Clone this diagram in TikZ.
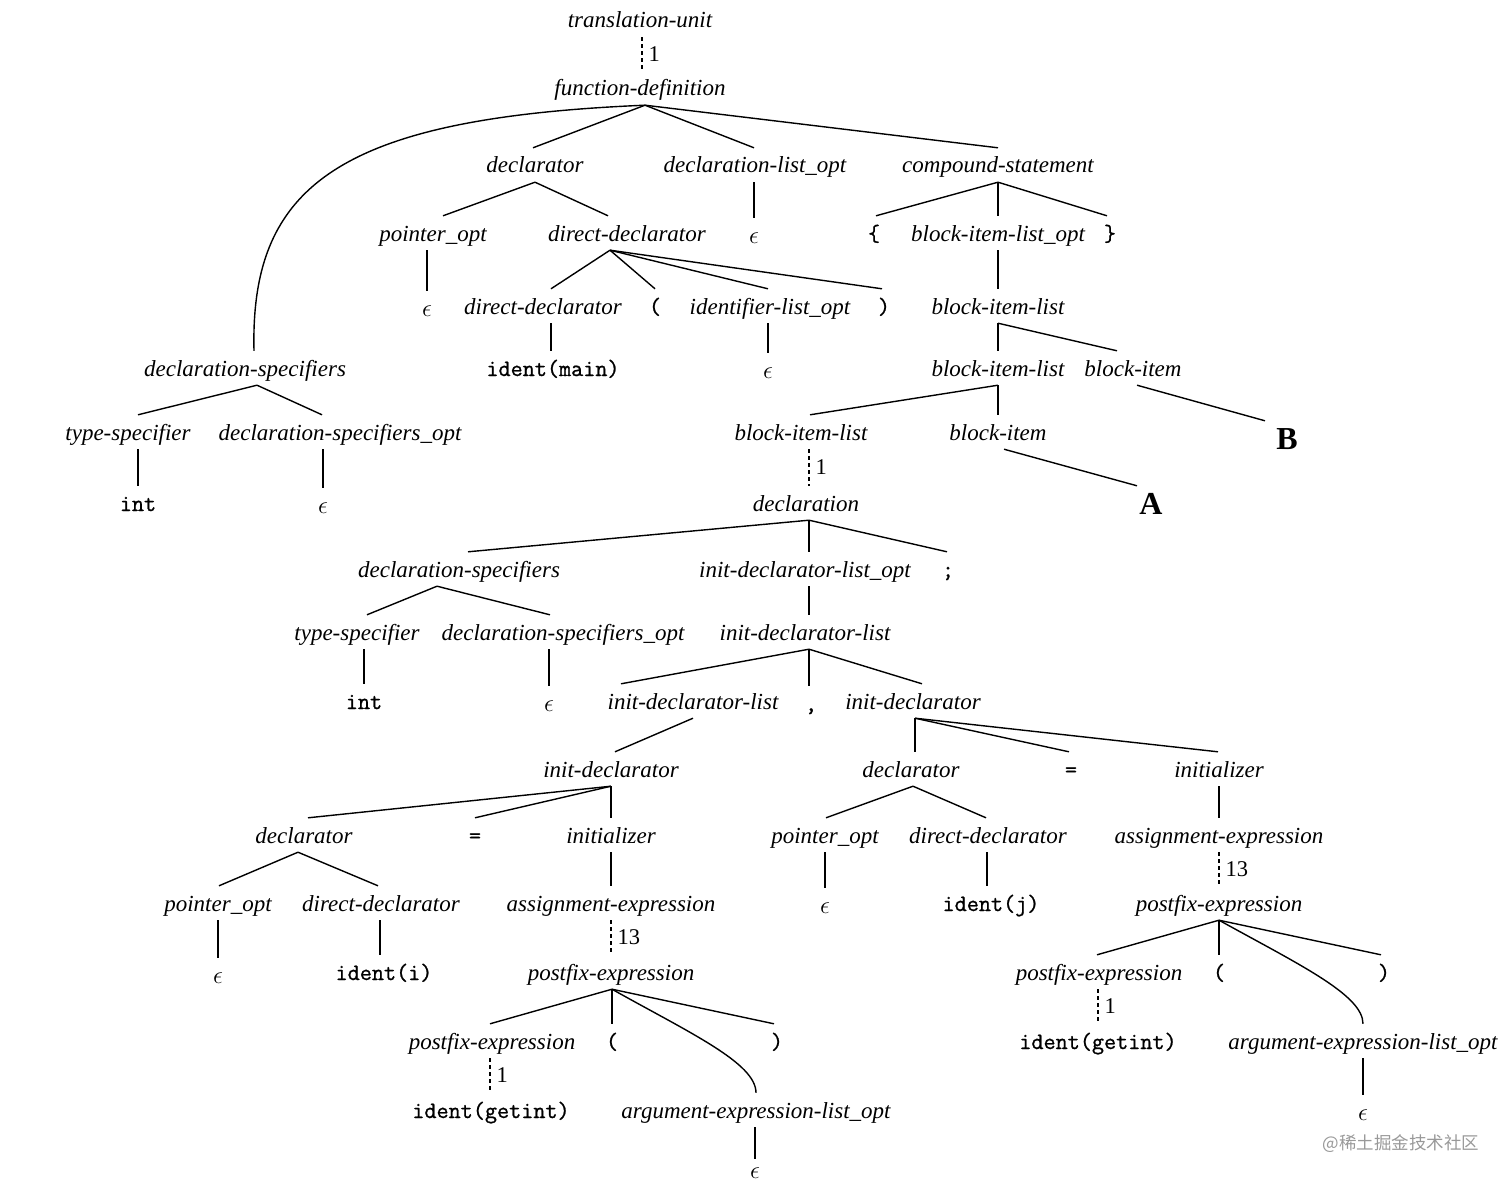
\documentclass[tikz,border=0pt]{standalone}
\usepackage{fontspec}
\setmainfont{Liberation Serif}
\newfontfamily\cjkfont{Noto Sans CJK SC}
\newfontfamily\mytt{Latin Modern Mono}[FakeBold=1.0]
\tikzset{
  lbl/.style={inner sep=0pt, text height=18pt, text depth=2pt, minimum height=34pt,
              font=\fontsize{23}{27}\selectfont\itshape},
  tt/.style={lbl, font=\fontsize{23.5}{27}\selectfont\mytt},
  bigl/.style={inner sep=0pt, text height=22pt, text depth=0pt, minimum height=34pt,
              font=\fontsize{32}{36}\selectfont\bfseries},
  lowlbl/.style={lbl, minimum height=22pt},
  edge/.style={line width=1.4pt},
  dashlink/.style={line width=1.2pt, dash pattern=on 4pt off 3pt},
  num/.style={right, inner sep=6pt, font=\fontsize{22.5}{26}\selectfont},
  wmark/.style={inner sep=0pt, text=black!40, font=\fontsize{17.5}{20}\selectfont\cjkfont}
}
\newcommand\edg[4]{\draw[edge] ([xshift=#2]#1.south) -- ([xshift=#4]#3.north);}
\newcommand\vedg[2]{\draw[edge] (#2.north |- #1.south) -- (#2.north);}
\begin{document}
\begin{tikzpicture}[x=1pt,y=-1pt]
\useasboundingbox (0,0) rectangle (1512,1185);
% ---- nodes ----
\node[lbl] (tu) at (640,20) {translation-unit};
\node[lbl] (fd) at (640,88) {function-definition};
\node[lbl] (d1) at (535,165) {declarator};
\node[lbl] (dlo) at (755,165) {declaration-list\_opt};
\node[lbl] (cs) at (998,165) {compound-statement};
\node[lbl] (po1) at (433,233) {pointer\_opt};
\node[lbl] (dd1) at (627,233) {direct-declarator};
\node[lbl] (eps1) at (754,235) {$\epsilon$};
\node[tt] (lb) at (874,233) {\{};
\node[lbl] (bilo) at (998,233) {block-item-list\_opt};
\node[tt] (rb) at (1110,233) {\}};
\node[lbl] (eps2) at (427,308) {$\epsilon$};
\node[lbl] (dd2) at (543,306) {direct-declarator};
\node[tt] (lp1) at (655,306) {(};
\node[lbl] (ilo) at (770,306) {identifier-list\_opt};
\node[tt] (rp1) at (884,306) {)};
\node[lbl] (bil1) at (998,306) {block-item-list};
\node[lbl] (ds1) at (245,368) {declaration-specifiers};
\node[tt] (im) at (553,368) {ident(main)};
\node[lbl] (eps3) at (768,370) {$\epsilon$};
\node[lbl] (bil2) at (998,368) {block-item-list};
\node[lbl] (bi1) at (1133,368) {block-item};
\node[lbl] (ts1) at (128,432) {type-specifier};
\node[lbl] (dso1) at (340,432) {declaration-specifiers\_opt};
\node[lbl] (bil3) at (801,432) {block-item-list};
\node[lbl] (bi2) at (998,432) {block-item};
\node[bigl] (B) at (1287,438) {B};
\node[tt] (int1) at (138,503) {int};
\node[lbl] (eps4) at (323,505) {$\epsilon$};
\node[lbl] (decl) at (806,503) {declaration};
\node[bigl] (A) at (1151,503) {A};
\node[lbl] (ds2) at (459,569) {declaration-specifiers};
\node[lbl] (idlo) at (805,569) {init-declarator-list\_opt};
\node[tt] (semi) at (948,569) {;};
\node[lbl] (ts2) at (357,632) {type-specifier};
\node[lbl] (dso2) at (563,632) {declaration-specifiers\_opt};
\node[lbl] (idl1) at (805,632) {init-declarator-list};
\node[tt] (int2) at (364,701) {int};
\node[lbl] (eps5) at (549,703) {$\epsilon$};
\node[lbl] (idl2) at (693,701) {init-declarator-list};
\node[tt] (comma) at (811,703) {,};
\node[lbl] (id1) at (913,701) {init-declarator};
\node[lbl] (id2) at (611,769) {init-declarator};
\node[lbl] (decl2) at (911,769) {declarator};
\node[tt] (eq2) at (1071,769) {=};
\node[lbl] (ini2) at (1219,769) {initializer};
\node[lbl] (decl3) at (304,835) {declarator};
\node[tt] (eq3) at (475,835) {=};
\node[lbl] (ini3) at (611,835) {initializer};
\node[lbl] (po2) at (825,835) {pointer\_opt};
\node[lbl] (dd3) at (988,835) {direct-declarator};
\node[lbl] (ae2) at (1219,835) {assignment-expression};
\node[lbl] (po3) at (218,903) {pointer\_opt};
\node[lbl] (dd4) at (381,903) {direct-declarator};
\node[lbl] (ae1) at (611,903) {assignment-expression};
\node[lbl] (eps6) at (825,905) {$\epsilon$};
\node[tt] (idj) at (991,903) {ident(j)};
\node[lbl] (pe2) at (1219,903) {postfix-expression};
\node[lbl] (eps7) at (218,975) {$\epsilon$};
\node[tt] (idi) at (384,972) {ident(i)};
\node[lbl] (pe1) at (611,972) {postfix-expression};
\node[lbl] (pe3) at (1099,972) {postfix-expression};
\node[tt] (lp3) at (1219,972) {(};
\node[tt] (rp3) at (1384,972) {)};
\node[lbl] (pe4) at (492,1041) {postfix-expression};
\node[tt] (lp2) at (612,1041) {(};
\node[tt] (rp2) at (777,1041) {)};
\node[tt] (ig2) at (1098,1041) {ident(getint)};
\node[lbl] (ael2) at (1363,1041) {argument-expression-list\_opt};
\node[tt] (ig1) at (491,1110) {ident(getint)};
\node[lbl] (ael1) at (756,1110) {argument-expression-list\_opt};
\node[lbl] (eps9) at (1363,1112) {$\epsilon$};
\node[lowlbl] (eps8) at (755,1170) {$\epsilon$};
\node[wmark] (wm) at (1401,1144) {@稀土掘金技术社区};
% ---- edges ----
\draw[dashlink] ([xshift=2]tu.south) -- node[num]{1} ([xshift=2]fd.north);
\edg{fd}{5}{d1}{-2}
\edg{fd}{5}{dlo}{-1}
\edg{fd}{5}{cs}{0}
\draw[edge] ([xshift=5]fd.south) .. controls (340,118) and (250,185) .. ([xshift=9]ds1.north);
\edg{d1}{0}{po1}{10}
\edg{d1}{0}{dd1}{-19}
\vedg{dlo}{eps1}
\edg{cs}{0}{lb}{2}
\edg{cs}{0}{bilo}{0}
\edg{cs}{0}{rb}{-3}
\vedg{po1}{eps2}
\edg{dd1}{-17}{dd2}{8}
\edg{dd1}{-17}{lp1}{0}
\edg{dd1}{-17}{ilo}{-2}
\edg{dd1}{-17}{rp1}{-2}
\vedg{bilo}{bil1}
\edg{dd2}{8}{im}{-2}
\vedg{ilo}{eps3}
\edg{bil1}{0}{bil2}{0}
\edg{bil1}{0}{bi1}{-16}
\edg{ds1}{12}{ts1}{10}
\edg{ds1}{12}{dso1}{-18}
\edg{bil2}{0}{bil3}{9}
\edg{bil2}{0}{bi2}{0}
\draw[edge] ([xshift=4]bi1.south) -- ([xshift=-22]B.north);
\vedg{ts1}{int1}
\vedg{dso1}{eps4}
\draw[dashlink] ([xshift=8]bil3.south) -- node[num]{1} ([xshift=3]decl.north);
\draw[edge] ([xshift=6]bi2.south) -- ([xshift=-14]A.north);
\edg{decl}{3}{ds2}{9}
\edg{decl}{3}{idlo}{4}
\edg{decl}{3}{semi}{-1}
\edg{ds2}{-22}{ts2}{10}
\edg{ds2}{-22}{dso2}{-13}
\edg{idlo}{4}{idl1}{4}
\vedg{ts2}{int2}
\vedg{dso2}{eps5}
\edg{idl1}{4}{idl2}{-72}
\edg{idl1}{4}{comma}{-2}
\edg{idl1}{4}{id1}{9}
\edg{idl2}{0}{id2}{4}
\edg{id1}{2}{decl2}{4}
\edg{id1}{2}{eq2}{-2}
\edg{id1}{2}{ini2}{-1}
\edg{id2}{0}{decl3}{4}
\edg{id2}{0}{eq3}{0}
\edg{id2}{0}{ini3}{0}
\edg{decl2}{2}{po2}{1}
\edg{decl2}{2}{dd3}{-2}
\edg{ini2}{0}{ae2}{0}
\edg{decl3}{-6}{po3}{1}
\edg{decl3}{-6}{dd4}{-3}
\vedg{ini3}{ae1}
\vedg{po2}{eps6}
\edg{dd3}{-1}{idj}{-4}
\draw[dashlink] (ae2.south) -- node[num]{13} (pe2.north);
\vedg{po3}{eps7}
\edg{dd4}{-1}{idi}{-4}
\draw[dashlink] (ae1.south) -- node[num]{13} (pe1.north);
\edg{pe2}{0}{pe3}{-2}
\edg{pe2}{0}{lp3}{0}
\edg{pe2}{0}{rp3}{-3}
\draw[edge] (pe2.south) .. controls (1300,965) and (1363,995) .. (ael2.north);
\edg{pe1}{1}{pe4}{-2}
\edg{pe1}{1}{lp2}{0}
\edg{pe1}{1}{rp2}{-3}
\draw[edge] ([xshift=1]pe1.south) .. controls (690,1033) and (756,1063) .. (ael1.north);
\draw[dashlink] ([xshift=-1]pe3.south) -- node[num]{1} (ig2.north);
\draw[dashlink] ([xshift=-2]pe4.south) -- node[num]{1} ([xshift=-1]ig1.north);
\vedg{ael2}{eps9}
\vedg{ael1}{eps8}
\end{tikzpicture}
\end{document}
